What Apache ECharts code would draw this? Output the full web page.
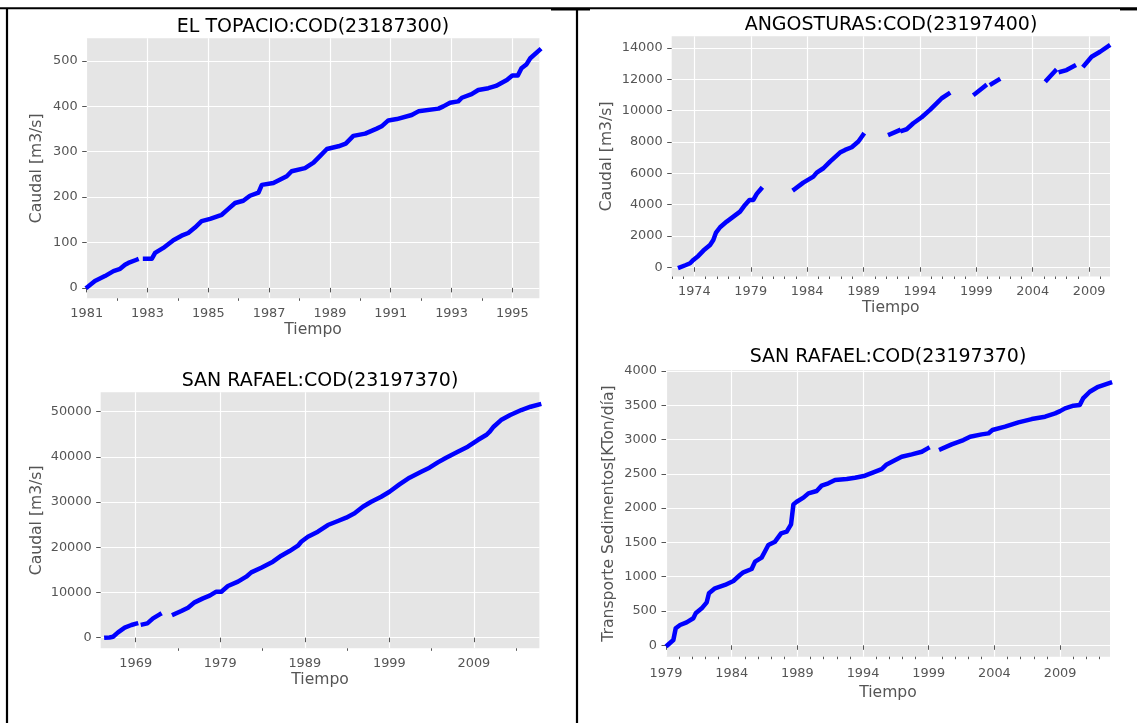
<!DOCTYPE html>
<html>
<head>
<meta charset="utf-8">
<script src="https://cdn.jsdelivr.net/npm/echarts@6/dist/echarts.min.js"></script>
<style>
html,body{margin:0;padding:0;background:#ffffff;}
#chart{width:1137px;height:723px;}
</style>
</head>
<body>
<div id="chart"></div>
<script>
// ---------- DATA ----------
// EL TOPACIO:COD(23187300) - cumulative flow (null = gap)
const topacioYear = [1981.03,1981.27,1981.6,1981.88,1982.1,1982.26,1982.37,1982.64,1982.78,1982.92,1983.14,1983.25,1983.52,1983.85,1984.12,1984.34,1984.56,1984.78,1985.06,1985.44,1985.66,1985.88,1986.15,1986.37,1986.65,1986.76,1987.14,1987.58,1987.74,1988.18,1988.46,1988.68,1988.9,1989.28,1989.52,1989.77,1990.16,1990.54,1990.7,1990.92,1991.2,1991.69,1991.91,1992.57,1992.73,1992.95,1993.22,1993.34,1993.66,1993.88,1994.21,1994.46,1994.82,1995.0,1995.18,1995.3,1995.47,1995.59,1995.89];
const topacioFlow = [2,15,26,37,42,51,55,62,null,64,64,77,88,105,115,121,133,147,152,161,174,187,192,203,210,227,231,246,257,264,276,291,306,312,318,335,340,351,356,369,372,381,389,395,400,408,411,419,427,436,440,445,458,468,468,484,493,506,524];

// ANGOSTURAS:COD(23197400)
const angosturasYear = [1972.73,1973.2,1973.62,1973.91,1974.35,1974.8,1975.39,1975.68,1975.92,1976.28,1976.87,1977.46,1978.05,1978.49,1978.88,1979.23,1979.53,1979.9,
  1981.5,
  1982.87,1983.66,1984.55,1984.85,1985.44,1986.03,1986.91,1987.36,1987.95,1988.54,1988.95,
  1990.0,
  1991.35,1992.1,
  1992.3,
  1992.45,1992.82,1993.41,1994.15,1994.89,1995.63,1995.93,1996.52,
  1997.5,
  1998.88,1999.77,
  2000.1,
  2000.36,2000.95,
  2003.0,
  2005.24,2005.98,
  2006.2,
  2006.48,2007.0,2007.66,
  2008.1,
  2008.57,2009.22,2009.97,2010.7];
const angosturasFlow = [0,130,255,468,724,1065,1426,1746,2214,2555,2917,3236,3555,3981,4301,4301,4684,5000,
  null,
  4982,5408,5791,6046,6323,6749,7324,7494,7664,8026,8450,
  null,
  8495,8729,
  null,
  8729,8814,9197,9581,10049,10581,10794,11071,
  null,
  11071,11582,
  null,
  11710,11965,
  null,
  11956,12531,
  null,
  12487,12594,12850,
  null,
  12893,13445,13763,14120];

// SAN RAFAEL:COD(23197370) - cumulative flow
const rafaelFlowYear = [1965.53,1965.9,1966.32,1966.91,1967.7,1968.49,1969.05,
  1969.45,
  1969.85,1970.38,1971.05,1971.84,
  1972.7,
  1973.53,1974.4,1975.19,1975.97,1976.96,1977.75,1978.53,1978.73,1979.13,1979.91,1981.1,1982.08,1982.67,1983.85,1985.23,1986.22,1987.2,1988.19,1988.58,1989.37,1990.55,1991.73,1992.92,1993.9,1994.89,1995.87,1996.86,1998.04,1999.02,2000.2,2001.39,2002.77,2003.75,2004.74,2005.72,2007.1,2008.28,2009.46,2010.45,2010.88,2011.34,2012.21,2013.3,2014.61,2015.71,2016.72];
const rafaelFlow = [0,50,221,1180,2212,2802,3100,
  null,
  2950,3171,4278,5162,
  null,
  5162,5900,6637,7818,8702,9292,10177,10325,10177,11431,12390,13496,14455,15487,16815,18142,19175,20355,21240,22346,23453,24928,25813,26550,27509,28984,30090,31196,32303,33925,35400,36728,37613,38793,39825,41153,42259,43734,44840,45578,46684,48159,49265,50371,51109,51625];

// SAN RAFAEL:COD(23197370) - cumulative sediment transport
const rafaelSedYear = [1979.13,1979.56,1979.74,1980.07,1980.57,1981.08,1981.26,1981.72,1982.1,1982.27,1982.73,1983.49,1984.13,1984.63,1984.89,1985.52,1985.78,1986.28,1986.59,1986.79,1987.3,1987.76,1988.19,1988.52,1988.7,1988.95,1989.46,1989.84,1990.47,1990.85,1991.36,1991.87,1992.76,1993.39,1994.15,1994.79,1995.42,1995.8,1996.31,1996.94,1997.71,1998.47,1998.92,
  1999.4,
  1999.94,2000.75,2001.64,2002.15,2003.03,2003.54,2003.85,2004.81,2005.83,2006.84,2007.86,2008.62,2009.0,2009.38,2010.02,2010.5,2010.75,2011.26,2011.9,2012.8];
const rafaelSed = [5,78,248,296,335,394,466,539,627,758,831,880,938,1025,1064,1113,1220,1278,1390,1463,1511,1633,1657,1764,2055,2094,2153,2216,2250,2328,2362,2410,2425,2444,2473,2522,2570,2638,2687,2750,2784,2823,2872,
  null,
  2862,2930,2993,3042,3076,3090,3139,3188,3251,3299,3333,3382,3415,3455,3494,3503,3600,3697,3770,3828];

// ---------- TICKS / LABELS ----------
const titles = ['EL TOPACIO:COD(23187300)','ANGOSTURAS:COD(23197400)','SAN RAFAEL:COD(23197370)','SAN RAFAEL:COD(23197370)'];
const xName = 'Tiempo';
const yNames = ['Caudal [m3/s]','Caudal [m3/s]','Caudal [m3/s]','Transporte Sedimentos[KTon/día]'];
const xMajor0 = [1981,1983,1985,1987,1989,1991,1993,1995];
const xMinor0 = [1982,1984,1986,1988,1990,1992,1994];
const xMajor1 = [1974,1979,1984,1989,1994,1999,2004,2009];
const xMinor1 = [1972,1973,1975,1976,1977,1978,1980,1981,1982,1983,1985,1986,1987,1988,1990,1991,1992,1993,1995,1996,1997,1998,2000,2001,2002,2003,2005,2006,2007,2008,2010];
const xMajor2 = [1969,1979,1989,1999,2009];
const xMinor2 = [1974,1984,1994,2004,2014];
const xMajor3 = [1979,1984,1989,1994,1999,2004,2009];
const xMinor3 = [1980,1981,1982,1983,1985,1986,1987,1988,1990,1991,1992,1993,1995,1996,1997,1998,2000,2001,2002,2003,2005,2006,2007,2008,2010,2011,2012];
const yTicks0 = [0,100,200,300,400,500];
const yTicks1 = [0,2000,4000,6000,8000,10000,12000,14000];
const yTicks2 = [0,10000,20000,30000,40000,50000];
const yTicks3 = [0,500,1000,1500,2000,2500,3000,3500,4000];

// ---------- LAYOUT ----------
const panels = [
  {grid:{left:86.7, top:38.3, width:452.7, height:260}, xr:[1981.0,1995.89], yr:[-23,550], xMaj:xMajor0, xMin:xMinor0, yT:yTicks0, xs:topacioYear, ys:topacioFlow, title:{cx:313, top:18}, yGap:42, xGap:24, xMargin:9},
  {grid:{left:671.7, top:36.3, width:438.3, height:240.2}, xr:[1971.99,2010.85], yr:[-590,14750], xMaj:xMajor1, xMin:xMinor1, yT:yTicks1, xs:angosturasYear, ys:angosturasFlow, title:{cx:891, top:16}, yGap:57, xGap:23.5, xMargin:8.5},
  {grid:{left:100.7, top:392.3, width:438.7, height:256}, xr:[1964.86,2016.75], yr:[-2350,54300], xMaj:xMajor2, xMin:xMinor2, yT:yTicks2, xs:rafaelFlowYear, ys:rafaelFlow, title:{cx:320, top:371.5}, yGap:56, xGap:24, xMargin:8.5},
  {grid:{left:666, top:370.3, width:444, height:286.4}, xr:[1979.0,2012.8], yr:[-166,4010], xMaj:xMajor3, xMin:xMinor3, yT:yTicks3, xs:rafaelSedYear, ys:rafaelSed, title:{cx:888, top:348}, yGap:49.5, xGap:28.5, xMargin:10}
];

const FONT = 'DejaVu Sans';
const TICK_COLOR = '#555555';

const grid = [], xAxis = [], yAxis = [], series = [], title = [];
panels.forEach((p, i) => {
  grid.push(Object.assign({show:true, backgroundColor:'#E5E5E5', borderWidth:0, outerBoundsMode:'none', containLabel:false}, p.grid));
  title.push({
    text: titles[i], left: p.title.cx, top: p.title.top, textAlign:'center', padding:0,
    textStyle:{fontFamily:FONT, fontSize:19, fontWeight:'normal', color:'#000000'}
  });
  // major x axis
  xAxis.push({
    type:'value', gridIndex:i, min:p.xr[0], max:p.xr[1], position:'bottom',
    axisLine:{show:false},
    axisTick:{show:true, length:4.5, customValues:p.xMaj, lineStyle:{color:TICK_COLOR, width:1}},
    axisLabel:{show:true, customValues:p.xMaj, color:TICK_COLOR, fontFamily:FONT, fontSize:12.9, margin:p.xMargin, formatter:v=>String(Math.round(v))},
    splitLine:{show:true, lineStyle:{color:'#ffffff', width:1.2}},
    name:xName, nameLocation:'middle', nameGap:p.xGap,
    nameTextStyle:{color:TICK_COLOR, fontFamily:FONT, fontSize:15.6}
  });
  // minor x axis (ticks only)
  xAxis.push({
    type:'value', gridIndex:i, min:p.xr[0], max:p.xr[1], position:'bottom',
    axisLine:{show:false},
    axisTick:{show:true, length:2.5, customValues:p.xMin, lineStyle:{color:TICK_COLOR, width:1}},
    axisLabel:{show:false},
    splitLine:{show:false}
  });
  yAxis.push({
    type:'value', gridIndex:i, min:p.yr[0], max:p.yr[1], position:'left',
    axisLine:{show:false},
    axisTick:{show:true, length:4.5, customValues:p.yT, lineStyle:{color:TICK_COLOR, width:1}},
    axisLabel:{show:true, customValues:p.yT, color:TICK_COLOR, fontFamily:FONT, fontSize:12.9, margin:9, formatter:v=>String(Math.round(v))},
    splitLine:{show:true, lineStyle:{color:'#ffffff', width:1.2}},
    name:yNames[i], nameLocation:'middle', nameGap:p.yGap,
    nameTextStyle:{color:TICK_COLOR, fontFamily:FONT, fontSize:15.6}
  });
  series.push({
    type:'line', xAxisIndex:i*2, yAxisIndex:i,
    data:p.xs.map((x, k) => [x, p.ys[k] === null ? '-' : p.ys[k]]),
    symbol:'none', showSymbol:false, connectNulls:false, smooth:false,
    lineStyle:{color:'#0000ff', width:4.5, cap:'square', join:'round'},
    itemStyle:{color:'#0000ff'},
    silent:true, animation:false, z:3
  });
});

const frame = [
  {type:'line', shape:{x1:0, y1:8.3, x2:1137, y2:8.3}, style:{stroke:'#000', lineWidth:2}},
  {type:'line', shape:{x1:551, y1:9.7, x2:590, y2:9.7}, style:{stroke:'#000', lineWidth:1.5}},
  {type:'line', shape:{x1:1120, y1:9.7, x2:1137, y2:9.7}, style:{stroke:'#000', lineWidth:1.5}},
  {type:'line', shape:{x1:7, y1:8, x2:7, y2:723}, style:{stroke:'#000', lineWidth:2.2}},
  {type:'line', shape:{x1:577, y1:8, x2:577, y2:723}, style:{stroke:'#000', lineWidth:2.2}}
];

const chart = echarts.init(document.getElementById('chart'), null, {renderer:'canvas', width:1137, height:723});
chart.setOption({
  animation:false,
  backgroundColor:'#ffffff',
  title, grid, xAxis, yAxis, series,
  graphic: frame.map(g => Object.assign({silent:true, z:100}, g))
});
</script>
</body>
</html>
